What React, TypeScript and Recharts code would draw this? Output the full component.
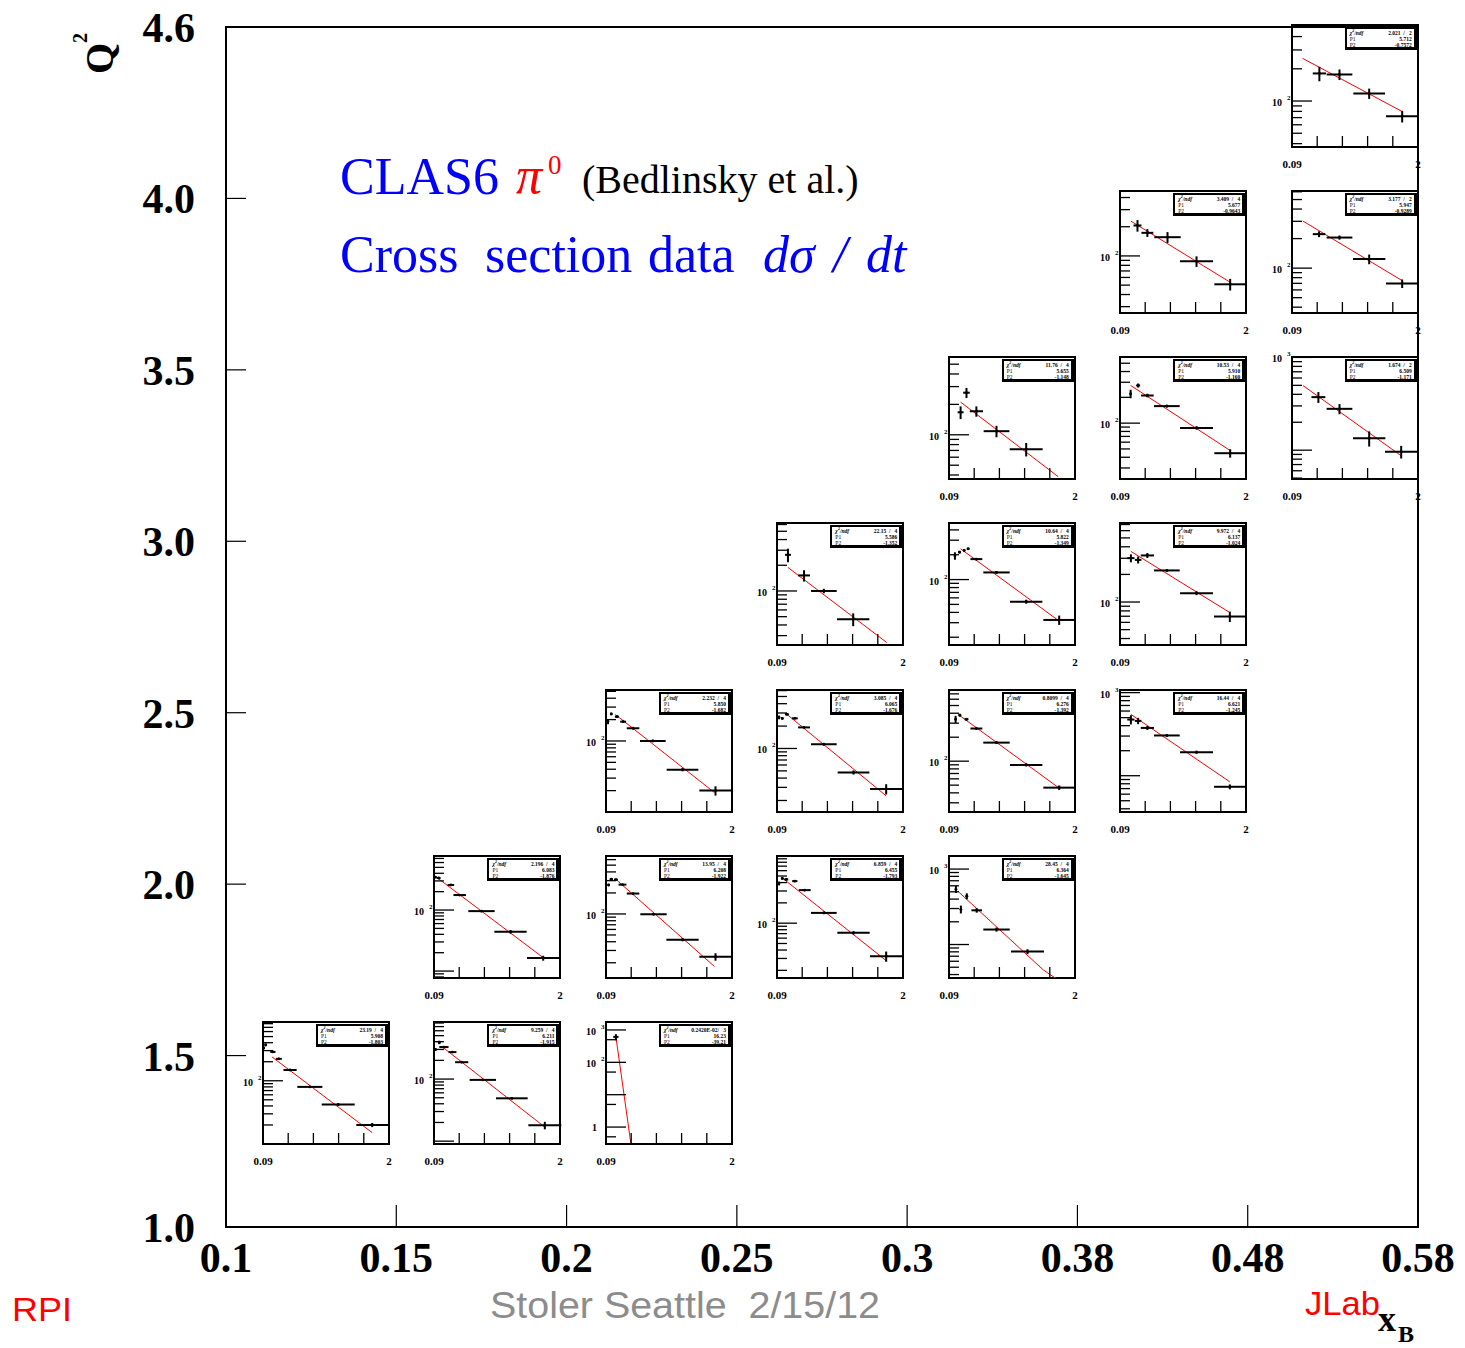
import React from 'react';
import {
  ComposedChart,
  ErrorBar,
  Line,
  ReferenceArea,
  Scatter,
  XAxis,
  YAxis,
} from 'recharts';

const SERIF = '"Liberation Serif", "Times New Roman", serif';
const SANS = '"Liberation Sans Narrow", "Liberation Sans", Arial, sans-serif';

// main grid: evenly spaced xB / Q2 bins
const X_LABELS = ['0.1', '0.15', '0.2', '0.25', '0.3', '0.38', '0.48', '0.58'];
const Y_LABELS = ['1.0', '1.5', '2.0', '2.5', '3.0', '3.5', '4.0', '4.6'];
const GRID_INDEX = [0, 1, 2, 3, 4, 5, 6, 7];

// pads: -t axis and log ticks
const T_RANGE: [number, number] = [0.09, 2];
const T_TICKS = [0.09, 0.472, 0.854, 1.236, 1.618, 2];
const T_TICK_LABELS = ['0.09', '', '', '', '', '2'];
const LOG_STEPS_FULL = [1, 2, 3, 4, 5, 6, 7, 8, 9];
const LOG_STEPS_SPARSE = [1, 5];

// points: [t, dsigma/dt, half bin width, error]
const PTS_R0C0 = [[0.1, 330, 0.015, 15], [0.13, 370, 0.015, 20], [0.24, 286, 0.04, 10], [0.33, 222, 0.045, 8], [0.5, 148, 0.1, 5], [0.8, 80, 0.19, 3], [1.23, 42, 0.25, 2], [1.745, 20, 0.24, 1.5]];
const PTS_R0C1 = [[0.11, 300, 0.02, 15], [0.17, 390, 0.02, 25], [0.24, 328, 0.07, 10], [0.37, 272, 0.06, 8], [0.51, 187, 0.1, 6], [0.83, 97, 0.2, 3], [1.27, 49, 0.24, 2], [1.77, 18, 0.25, 2.5]];
const PTS_R0C2 = [[0.24, 610, 0.04, 130]];
const PTS_R1C1 = [[0.11, 345, 0.02, 10], [0.16, 335, 0.03, 10], [0.345, 257, 0.05, 8], [0.48, 176, 0.095, 5], [0.81, 96, 0.2, 4], [1.25, 44, 0.245, 3], [1.745, 16.3, 0.245, 1.5]];
const PTS_R1C2 = [[0.13, 260, 0.015, 10], [0.17, 314, 0.025, 10], [0.24, 310, 0.03, 8], [0.34, 263, 0.06, 6], [0.5, 196, 0.095, 5], [0.81, 99, 0.2, 3], [1.25, 42.7, 0.245, 2], [1.75, 24.4, 0.245, 3]];
const PTS_R1C3 = [[0.12, 388, 0.015, 25], [0.17, 460, 0.02, 15], [0.23, 445, 0.03, 12], [0.36, 420, 0.04, 12], [0.51, 309, 0.09, 12], [0.8, 142, 0.195, 6], [1.25, 72, 0.245, 4], [1.745, 32.4, 0.245, 5.6]];
const PTS_R1C4 = [[0.195, 541, 0.01, 60], [0.27, 293, 0.015, 35], [0.36, 437, 0.02, 40], [0.51, 284, 0.08, 20], [0.81, 158, 0.2, 10], [1.28, 80.7, 0.25, 6]];
const PTS_R2C2 = [[0.12, 187, 0.01, 15], [0.17, 240, 0.015, 10], [0.255, 220, 0.03, 8], [0.35, 187, 0.045, 6], [0.5, 151, 0.095, 5], [0.8, 100, 0.195, 4], [1.25, 39.4, 0.24, 2], [1.75, 20, 0.245, 3]];
const PTS_R2C3 = [[0.12, 262, 0.01, 15], [0.17, 254, 0.015, 10], [0.24, 288, 0.03, 8], [0.36, 254, 0.045, 6], [0.5, 192, 0.09, 5], [0.8, 114, 0.195, 4], [1.25, 47.6, 0.24, 3], [1.745, 28.6, 0.245, 4.5]];
const PTS_R2C4 = [[0.19, 336, 0.01, 35], [0.255, 378, 0.02, 15], [0.355, 336, 0.03, 12], [0.505, 257, 0.09, 8], [0.81, 171, 0.2, 6], [1.26, 89.8, 0.245, 4], [1.76, 46.5, 0.24, 3]];
const PTS_R2C5 = [[0.255, 474, 0.055, 60], [0.365, 457, 0.05, 40], [0.505, 376, 0.1, 20], [0.8, 305, 0.195, 10], [1.25, 192, 0.25, 8], [1.755, 73.6, 0.24, 5]];
const PTS_R3C3 = [[0.256, 265, 0.045, 48], [0.5, 152, 0.09, 23], [0.8, 100, 0.195, 6], [1.245, 46.7, 0.245, 8]];
const PTS_R3C4 = [[0.18, 194, 0.01, 20], [0.25, 215, 0.015, 8], [0.32, 226, 0.015, 8], [0.38, 236, 0.02, 8], [0.505, 177, 0.09, 6], [0.81, 122, 0.2, 5], [1.26, 54, 0.245, 3], [1.76, 32.4, 0.24, 4.2]];
const PTS_R3C5 = [[0.255, 301, 0.055, 30], [0.365, 288, 0.05, 25], [0.505, 322, 0.1, 20], [0.8, 221, 0.195, 8], [1.25, 125, 0.25, 6], [1.755, 69.5, 0.24, 9]];
const PTS_R4C4 = [[0.266, 167, 0.045, 24], [0.355, 261, 0.05, 30], [0.505, 171, 0.1, 20], [0.81, 108.6, 0.195, 14], [1.26, 72, 0.25, 11]];
const PTS_R4C5 = [[0.251, 220, 0.015, 25], [0.365, 275, 0.03, 15], [0.505, 210, 0.095, 10], [0.8, 158, 0.195, 6], [1.25, 88, 0.25, 4], [1.76, 44.6, 0.24, 5]];
const PTS_R4C6 = [[0.49, 373, 0.105, 50], [0.81, 279, 0.195, 35], [1.26, 134.5, 0.245, 25], [1.745, 96.3, 0.245, 15]];
const PTS_R5C5 = [[0.355, 206, 0.06, 28], [0.505, 173, 0.09, 16], [0.81, 156, 0.2, 20], [1.25, 88, 0.25, 11], [1.76, 51, 0.24, 7]];
const PTS_R5C6 = [[0.5, 222, 0.095, 15], [0.81, 205, 0.195, 10], [1.26, 123.6, 0.245, 14], [1.76, 69.7, 0.245, 7]];
const PTS_R6C6 = [[0.505, 181, 0.1, 28], [0.81, 177, 0.195, 20], [1.26, 117.6, 0.24, 13], [1.76, 72, 0.245, 9]];

// fit curves, read at their ends: [t, dsigma/dt]
const FIT_R0C0 = [[0.225, 239], [1.745, 15.1]];
const FIT_R0C1 = [[0.225, 324], [1.774, 16.7]];
const FIT_R0C2 = [[0.24, 620], [0.466, 0.32]];
const FIT_R1C1 = [[0.135, 340], [1.744, 16.6]];
const FIT_R1C2 = [[0.255, 304], [1.734, 17.7]];
const FIT_R1C3 = [[0.18, 460], [1.744, 27.9]];
const FIT_R1C4 = [[0.24, 494], [1.52, 46], [1.7, 36]];
const FIT_R2C2 = [[0.23, 236], [1.734, 18.8]];
const FIT_R2C3 = [[0.221, 297], [1.744, 23.1]];
const FIT_R2C4 = [[0.231, 385], [1.76, 45.9]];
const FIT_R2C5 = [[0.255, 547], [1.755, 84.4]];
const FIT_R3C3 = [[0.256, 188.6], [1.753, 24.9]];
const FIT_R3C4 = [[0.266, 235.8], [1.76, 31.4]];
const FIT_R3C5 = [[0.255, 356.6], [1.755, 76.7]];
const FIT_R4C4 = [[0.266, 210.6], [1.745, 38.5]];
const FIT_R4C5 = [[0.251, 275.3], [1.76, 47.9]];
const FIT_R4C6 = [[0.255, 498], [1.745, 87]];
const FIT_R5C5 = [[0.255, 228.4], [1.76, 53.5]];
const FIT_R5C6 = [[0.255, 301.9], [1.76, 74.6]];
const FIT_R6C6 = [[0.25, 250.3], [1.743, 80.8]];

const PANEL_ROWS = [0, 0, 0, 1, 1, 1, 1, 2, 2, 2, 2, 3, 3, 3, 4, 4, 4, 5, 5, 6];
const PANEL_COLS = [0, 1, 2, 1, 2, 3, 4, 2, 3, 4, 5, 3, 4, 5, 4, 5, 6, 5, 6, 6];
const PANEL_YMIN = [10, 9, 0.3, 7.7, 12.1, 15.4, 36, 10, 14, 23, 36.6, 23.3, 16.1, 34, 36.5, 22.3, 48.9, 25.8, 34.9, 37.2];
const PANEL_YMAX = [850, 830, 1760, 768, 676, 990, 1490, 522, 611, 783, 1075, 625, 485, 727, 589, 591, 1010, 467, 611, 513];
const PANEL_DECADE_LABELS = [[100], [100], [1000, 100, 1], [100], [100], [100], [1000], [100], [100], [100], [1000], [100], [100], [100], [100], [100], [1000], [100], [100], [100]];
const PANEL_SPARSE = [false, false, true, false, false, false, false, false, false, false, false, false, false, false, false, false, false, false, false, false];
const PANEL_CHI2 = ['23.19  /   4', '9.259  /   4', '0.2420E-02/   3', '2.196  /   4', '13.95  /   4', '6.859  /   4', '28.45  /   4', '2.232  /   4', '3.085  /   4', '0.8099  /   4', '16.44  /   4', '22.15  /   4', '10.64  /   4', '9.972  /   4', '11.76  /   4', '10.53  /   4', '1.674  /   2', '3.409  /   4', '3.177  /   2', '2.021  /   2'];
const PANEL_P1 = ['5.908', '6.211', '16.23', '6.083', '6.208', '6.455', '6.364', '5.850', '6.065', '6.276', '6.621', '5.586', '5.822', '6.137', '5.655', '5.910', '6.509', '5.677', '5.947', '5.712'];
const PANEL_P2 = ['-1.803', '-1.915', '-39.21', '-1.876', '-1.922', '-1.793', '-1.645', '-1.682', '-1.676', '-1.392', '-1.245', '-1.352', '-1.349', '-1.024', '-1.148', '-1.160', '-1.171', '-0.9643', '-0.9289', '-0.7572'];
const PANEL_POINTS = [PTS_R0C0, PTS_R0C1, PTS_R0C2, PTS_R1C1, PTS_R1C2, PTS_R1C3, PTS_R1C4, PTS_R2C2, PTS_R2C3, PTS_R2C4, PTS_R2C5, PTS_R3C3, PTS_R3C4, PTS_R3C5, PTS_R4C4, PTS_R4C5, PTS_R4C6, PTS_R5C5, PTS_R5C6, PTS_R6C6];
const PANEL_FITS = [FIT_R0C0, FIT_R0C1, FIT_R0C2, FIT_R1C1, FIT_R1C2, FIT_R1C3, FIT_R1C4, FIT_R2C2, FIT_R2C3, FIT_R2C4, FIT_R2C5, FIT_R3C3, FIT_R3C4, FIT_R3C5, FIT_R4C4, FIT_R4C5, FIT_R4C6, FIT_R5C5, FIT_R5C6, FIT_R6C6];

// page layout
const PAGE_W = 1465;
const PAGE_H = 1348;
const PLOT_LEFT = 226;
const PLOT_TOP = 27;
const PLOT_RIGHT = 1418;
const PLOT_BOTTOM = 1227;

// pad layout (ROOT canvas divided in 7x7)
const PAD_X0 = 263;
const PAD_DX = 171.45;
const PAD_Y0 = 1022;
const PAD_DY = 166.2;
const FRAME_W = 126;
const FRAME_H = 122;
const PAD_LEFT = 30;
const PAD_TOP = 8;
const PAD_RIGHT = 6;
const PAD_BOTTOM = 36;

function logTicks(min: number, max: number, steps: number[]): number[] {
  const out: number[] = [];
  const lo = Math.floor(Math.log10(min));
  const hi = Math.ceil(Math.log10(max));
  for (let e = lo; e <= hi; e++) {
    for (const s of steps) {
      const v = s * Math.pow(10, e);
      if (v >= min * 0.999 && v <= max * 1.001) out.push(v);
    }
  }
  return out;
}

function isDecade(v: number): boolean {
  const l = Math.log10(v);
  return Math.abs(l - Math.round(l)) < 1e-6;
}

function MainXTick(props: any) {
  const { x, y, payload } = props;
  const i = payload.value as number;
  const edge = i === 0 || i === GRID_INDEX.length - 1;
  return (
    <g>
      {!edge && <line x1={x} x2={x} y1={y} y2={y - 22} stroke="#000" strokeWidth={1.2} />}
      <text x={x} y={y + 45} textAnchor="middle" fontFamily={SERIF} fontWeight="bold" fontSize={42} fill="#000">
        {X_LABELS[i]}
      </text>
    </g>
  );
}

function MainYTick(props: any) {
  const { x, y, payload } = props;
  const i = payload.value as number;
  const edge = i === 0 || i === GRID_INDEX.length - 1;
  return (
    <g>
      {!edge && <line x1={x} x2={x + 20} y1={y} y2={y} stroke="#000" strokeWidth={1.2} />}
      <text x={x - 31} y={y + 15} textAnchor="end" fontFamily={SERIF} fontWeight="bold" fontSize={42} fill="#000">
        {Y_LABELS[i]}
      </text>
    </g>
  );
}

function PadXTick(props: any) {
  const { x, y, index } = props;
  const label = T_TICK_LABELS[index];
  const inner = index > 0 && index < T_TICKS.length - 1;
  return (
    <g>
      {inner && <line x1={x} x2={x} y1={y} y2={y - 11} stroke="#000" strokeWidth={1.3} />}
      {label && (
        <text x={x} y={y + 21} textAnchor="middle" fontFamily={SERIF} fontWeight="bold" fontSize={11} fill="#000">
          {label}
        </text>
      )}
    </g>
  );
}

function makePadYTick(labels: number[]) {
  return (props: any) => {
    const { x, y, payload } = props;
    const v = payload.value as number;
    const major = isDecade(v);
    const exp = Math.round(Math.log10(v));
    const labelled = major && labels.some((l) => Math.abs(l - v) < 1e-6);
    return (
      <g>
        <line x1={x} x2={x + (major ? 20 : 10)} y1={y} y2={y} stroke="#000" strokeWidth={1.3} />
        {labelled && exp === 0 && (
          <text x={x - 9} y={y + 4} textAnchor="end" fontFamily={SERIF} fontWeight="bold" fontSize={10} fill="#000">
            1
          </text>
        )}
        {labelled && exp !== 0 && (
          <g>
            <text x={x - 10} y={y + 5} textAnchor="end" fontFamily={SERIF} fontWeight="bold" fontSize={10} fill="#000">
              10
            </text>
            <text x={x - 5} y={y - 1} fontFamily={SERIF} fontWeight="bold" fontSize={7} fill="#000">
              {exp}
            </text>
          </g>
        )}
      </g>
    );
  };
}

function Dot(props: any) {
  const { cx, cy } = props;
  return <circle cx={cx} cy={cy} r={1.4} fill="#000" />;
}

function NoDot() {
  return <g />;
}

interface Panel {
  row: number;
  col: number;
  yMin: number;
  yMax: number;
  labels: number[];
  sparse: boolean;
  chi2: string;
  p1: string;
  p2: string;
  points: { t: number; y: number; ex: number; ey: number }[];
  fit: { t: number; y: number }[];
}

const PANELS: Panel[] = PANEL_ROWS.map((row, i) => ({
  row,
  col: PANEL_COLS[i],
  yMin: PANEL_YMIN[i],
  yMax: PANEL_YMAX[i],
  labels: PANEL_DECADE_LABELS[i],
  sparse: PANEL_SPARSE[i],
  chi2: PANEL_CHI2[i],
  p1: PANEL_P1[i],
  p2: PANEL_P2[i],
  points: PANEL_POINTS[i].map(([t, y, ex, ey]) => ({ t, y, ex, ey })),
  fit: PANEL_FITS[i].map(([t, y]) => ({ t, y })),
}));

// corners of the main grid, so the frame axes have something to scale
const GRID_CORNERS = [
  { x: GRID_INDEX[0], y: GRID_INDEX[0] },
  { x: GRID_INDEX[GRID_INDEX.length - 1], y: GRID_INDEX[GRID_INDEX.length - 1] },
];

function StatRow({ left, right, bold }: { left: React.ReactNode; right: string; bold?: boolean }) {
  return (
    <div style={{ display: 'flex', justifyContent: 'space-between', height: 6, lineHeight: '6px' }}>
      <span style={{ fontWeight: bold ? 'bold' : 'normal', fontStyle: bold ? 'italic' : 'normal' }}>{left}</span>
      <span style={{ whiteSpace: 'pre' }}>{right}</span>
    </div>
  );
}

function Pad({ panel }: { panel: Panel }) {
  const w = PAD_LEFT + FRAME_W + PAD_RIGHT;
  const h = PAD_TOP + FRAME_H + PAD_BOTTOM;
  const left = PAD_X0 + panel.col * PAD_DX - PAD_LEFT;
  const top = PAD_Y0 - panel.row * PAD_DY - PAD_TOP;
  const ticks = logTicks(panel.yMin, panel.yMax, panel.sparse ? LOG_STEPS_SPARSE : LOG_STEPS_FULL);
  return (
    <div style={{ position: 'absolute', left, top, width: w, height: h }}>
      <ComposedChart width={w} height={h} margin={{ top: PAD_TOP, right: PAD_RIGHT, left: 0, bottom: 0 }}>
        <XAxis
          type="number"
          dataKey="t"
          domain={T_RANGE}
          ticks={T_TICKS}
          interval={0}
          allowDataOverflow
          axisLine={false}
          tickLine={false}
          tickSize={0}
          tickMargin={0}
          height={PAD_BOTTOM}
          tick={PadXTick}
        />
        <YAxis
          type="number"
          dataKey="y"
          scale="log"
          domain={[panel.yMin, panel.yMax]}
          ticks={ticks}
          interval={0}
          allowDataOverflow
          axisLine={false}
          tickLine={false}
          tickSize={0}
          tickMargin={0}
          width={PAD_LEFT}
          tick={makePadYTick(panel.labels)}
        />
        <ReferenceArea
          x1={T_RANGE[0]}
          x2={T_RANGE[1]}
          y1={panel.yMin}
          y2={panel.yMax}
          fill="none"
          stroke="#000"
          strokeWidth={2}
          ifOverflow="visible"
        />
        <Line
          data={panel.fit}
          dataKey="y"
          stroke="#ff0000"
          strokeWidth={1}
          dot={false}
          isAnimationActive={false}
        />
        <Scatter data={panel.points} dataKey="y" shape={Dot} isAnimationActive={false}>
          <ErrorBar dataKey="ex" direction="x" width={0} stroke="#000" strokeWidth={2} isAnimationActive={false} />
          <ErrorBar dataKey="ey" direction="y" width={0} stroke="#000" strokeWidth={2} isAnimationActive={false} />
        </Scatter>
      </ComposedChart>
      <div
        style={{
          position: 'absolute',
          left: PAD_LEFT + FRAME_W - 73,
          top: PAD_TOP + 2,
          width: 72,
          height: 23,
          boxSizing: 'border-box',
          border: '2px solid #000',
          borderRightWidth: 3,
          borderBottomWidth: 3,
          background: '#fff',
          padding: '1px 2px 0 3px',
          fontFamily: SERIF,
          fontSize: 5.5,
          fontWeight: 'bold',
          color: '#000',
        }}
      >
        <StatRow left={<>χ<sup style={{ fontSize: 4, lineHeight: 0 }}>2</sup>/ndf</>} right={panel.chi2} bold />
        <StatRow left="P1" right={panel.p1} />
        <StatRow left="P2" right={panel.p2} />
      </div>
    </div>
  );
}

function MainFrame() {
  return (
    <ComposedChart
      width={PAGE_W}
      height={PAGE_H}
      data={GRID_CORNERS}
      margin={{ top: PLOT_TOP, right: PAGE_W - PLOT_RIGHT, left: 0, bottom: 0 }}
    >
      <XAxis
        type="number"
        dataKey="x"
        domain={[0, 7]}
        ticks={GRID_INDEX}
        interval={0}
        axisLine={false}
        tickLine={false}
        tickSize={0}
        tickMargin={0}
        height={PAGE_H - PLOT_BOTTOM}
        tick={MainXTick}
      />
      <YAxis
        type="number"
        dataKey="y"
        domain={[0, 7]}
        ticks={GRID_INDEX}
        interval={0}
        axisLine={false}
        tickLine={false}
        tickSize={0}
        tickMargin={0}
        width={PLOT_LEFT}
        tick={MainYTick}
      />
      <ReferenceArea x1={0} x2={7} y1={0} y2={7} fill="none" stroke="#000" strokeWidth={2} ifOverflow="visible" />
      <Scatter data={GRID_CORNERS} dataKey="y" shape={NoDot} isAnimationActive={false} />
    </ComposedChart>
  );
}

function Annotations() {
  return (
    <svg
      width={PAGE_W}
      height={PAGE_H}
      style={{ position: 'absolute', left: 0, top: 0, pointerEvents: 'none' }}
    >
      <g fontFamily={SERIF}>
        <text transform="translate(113,74) rotate(-90)" fontWeight="bold" fontSize={40} fill="#000">
          Q
          <tspan dy={-26} fontSize={20}>2</tspan>
        </text>
        <text x={340} y={194} fontSize={52} fill="#0000ff">CLAS6</text>
        <text x={516} y={193} fontSize={52} fontStyle="italic" fill="#ff0000">π</text>
        <text x={548} y={174} fontSize={27} fill="#ff0000">0</text>
        <text x={582} y={193} fontSize={40} fill="#000">(Bedlinsky et al.)</text>
        <text x={340} y={272} fontSize={52} fill="#0000ff">Cross</text>
        <text x={485} y={272} fontSize={52} fill="#0000ff">section</text>
        <text x={648} y={272} fontSize={52} fill="#0000ff">data</text>
        <text x={763} y={272} fontSize={52} fontStyle="italic" fill="#0000ff">dσ</text>
        <text x={833} y={272} fontSize={52} fontStyle="italic" fill="#0000ff">/</text>
        <text x={866} y={272} fontSize={52} fontStyle="italic" fill="#0000ff">dt</text>
        <text x={1378} y={1331} fontWeight="bold" fontSize={36} fill="#000">x</text>
        <text x={1398} y={1342} fontWeight="bold" fontSize={24} fill="#000">B</text>
      </g>
      <g fontFamily={SANS}>
        <text x={12} y={1321} fontSize={34} fill="#ff0000" textLength={60} lengthAdjust="spacingAndGlyphs">RPI</text>
        <text x={490} y={1318} fontSize={36} fill="#8c8c8c" textLength={390} lengthAdjust="spacingAndGlyphs" xmlSpace="preserve">
          Stoler Seattle  2/15/12
        </text>
        <text x={1305} y={1315} fontSize={34} fill="#ff0000" textLength={75} lengthAdjust="spacingAndGlyphs">JLab</text>
      </g>
    </svg>
  );
}

export default function App() {
  return (
    <div style={{ position: 'relative', width: PAGE_W, height: PAGE_H, background: '#fff' }}>
      <style>{'body{margin:0}'}</style>
      <MainFrame />
      {PANELS.map((p) => (
        <Pad key={`${p.row}-${p.col}`} panel={p} />
      ))}
      <Annotations />
    </div>
  );
}
